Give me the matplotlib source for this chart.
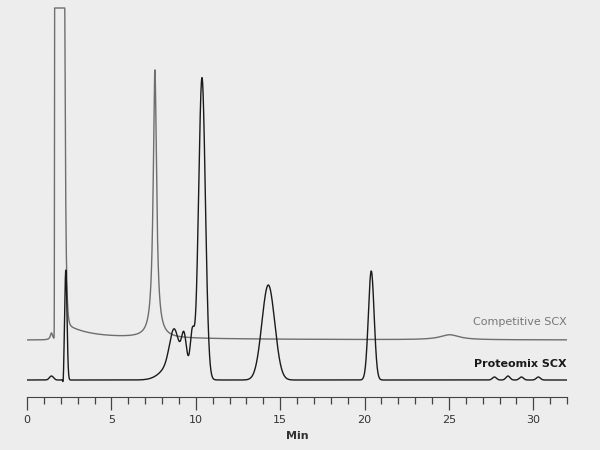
import numpy as np
import matplotlib.pyplot as plt

# peak tables: retention time (min), height, width
comp_rt = [1.45, 7.58, 25.05]
comp_h = [7, 268, 5]
comp_w = [0.08, 0.12, 0.7]
comp_base = 57
comp_clip = 389
# injection front of the competitive trace: start, end of the flat top
inj_start, inj_end = 1.66, 2.13

prot_rt = [1.45, 2.15, 2.3, 8.7, 9.3, 9.8, 10.37, 14.3, 20.4, 27.7, 28.5, 29.3, 30.3]
prot_h = [4, -9, 110, 30, 28, 38, 300, 95, 109, 3, 4, 3, 3]
prot_w = [0.12, 0.03, 0.07, 0.25, 0.14, 0.12, 0.2, 0.38, 0.17, 0.12, 0.12, 0.12, 0.12]
prot_base = 17

t_comp = np.linspace(-0.1, 32.2, 5000)
t_prot = np.linspace(-0.1, 32.2, 5000)

def lorentz(t, rt, h, w):
    return h * w**2 / ((t - rt)**2 + w**2)

def gauss(t, rt, h, w):
    return h * np.exp(-0.5 * ((t - rt) / w)**2)

y_comp = np.full_like(t_comp, comp_base, dtype=float)
for rt, h, w in zip(comp_rt, comp_h, comp_w):
    y_comp += lorentz(t_comp, rt, h, w)
front = np.where(t_comp < inj_start, gauss(t_comp, inj_start, 2000, 0.015),
                 np.where(t_comp < inj_end, 2000,
                          2000 * np.exp(-(t_comp - inj_end) / 0.06)))
y_comp += front
y_comp += np.where(t_comp > inj_end, 14 * np.exp(-(t_comp - inj_end) / 1.2) + 4 * np.exp(-(t_comp - inj_end) / 8), 0)
y_comp = np.minimum(y_comp, comp_clip)

y_prot = np.full_like(t_prot, prot_base, dtype=float)
for rt, h, w in zip(prot_rt, prot_h, prot_w):
    y_prot += gauss(t_prot, rt, h, w)
y_prot += 22 * np.exp(-0.5 * ((t_prot - 8.9) / 0.7)**2)

fig = plt.figure(figsize=(6, 4.5), dpi=100, facecolor="#ededed")
ax = fig.add_axes([27/600, 53/450, 540/600, 397/450])
ax.set_facecolor("#ededed")
ax.plot(t_comp, y_comp, color="#6e6e6e", lw=1.0)
ax.plot(t_prot, y_prot, color="#1a1a1a", lw=1.0)
ax.set_xlim(0, 32)
ax.set_ylim(0, 397)
ax.set_xticks(np.arange(0, 31, 5))
ax.set_xticks(np.arange(0, 33, 1), minor=True)
ax.tick_params(axis="x", which="major", length=9, width=0.9, color="#444444",
               labelsize=8, labelcolor="#333333", pad=4)
ax.tick_params(axis="x", which="minor", length=5, width=0.9, color="#444444")
ax.set_yticks([])
for s in ["top", "left", "right"]:
    ax.spines[s].set_visible(False)
ax.spines["bottom"].set_color("#444444")
ax.set_xlabel("Min", fontsize=8, fontweight="bold", color="#333333")
ax.text(32, 75, "Competitive SCX", ha="right", va="center", fontsize=8, color="#777777")
ax.text(32, 33, "Proteomix SCX", ha="right", va="center", fontsize=8, fontweight="bold", color="#1a1a1a")

fig.savefig("out.png", dpi=100, facecolor=fig.get_facecolor())
